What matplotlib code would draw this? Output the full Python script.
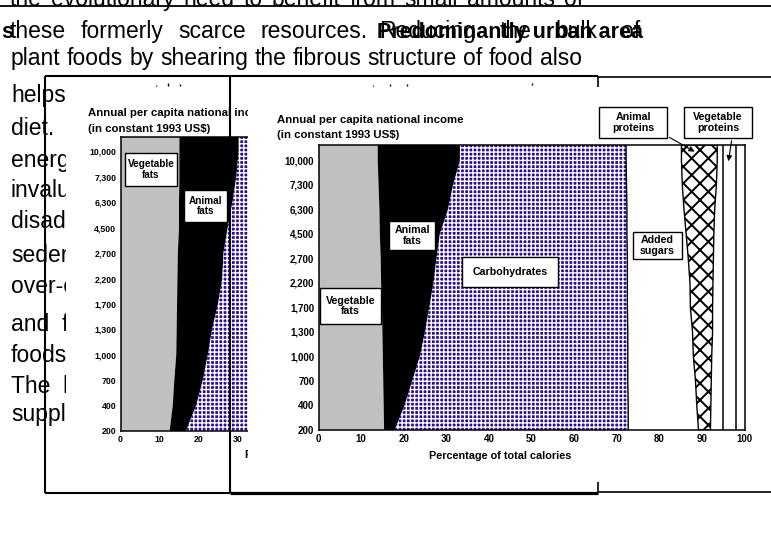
import numpy as np
import matplotlib
matplotlib.use('Agg')
import matplotlib.pyplot as plt
import matplotlib.transforms as mtransforms
from matplotlib.patches import Rectangle

plt.rcParams['font.family'] = ['Liberation Sans', 'DejaVu Sans']

# ---------------- data ----------------
incomes = ['200', '400', '700', '1,000', '1,300', '1,700', '2,200', '2,700',
           '4,500', '6,300', '7,300', '10,000']
pct_ticks = [0, 10, 20, 30, 40, 50, 60, 70, 80, 90, 100]

# right (front) chart: cumulative % of total calories, bottom (200) -> top (10,000)
veg_fats = [15.4, 15.3, 15.2, 15.1, 15.0, 14.9, 14.7, 14.6, 14.4, 14.3, 14.1, 13.9]
animal_fats = [17.9, 20.2, 22.0, 23.8, 25.0, 26.0, 27.0, 27.7, 28.5, 30.4, 31.6, 33.2]
carbohydrates = [72.7, 72.7, 72.6, 72.6, 72.6, 72.5, 72.5, 72.5, 72.4, 72.4, 72.3, 72.2]
added_sugars = [89.2, 88.8, 88.5, 88.0, 87.8, 87.3, 87.2, 86.8, 86.3, 85.8, 85.4, 85.2]
animal_proteins = [92.0, 92.1, 92.2, 92.3, 92.5, 92.5, 92.6, 92.7, 92.8, 93.0, 93.4, 93.6]
other_edge = [94.9, 94.9, 94.9, 94.9, 94.9, 94.9, 94.9, 94.9, 94.9, 94.9, 94.9, 94.9]
vegetable_proteins = [97.9, 97.9, 97.9, 97.9, 97.9, 97.9, 97.9, 97.9, 97.9, 97.9, 97.9, 97.9]

# left (back) chart, partly hidden
left_veg_fats = [12.6, 13.4, 13.8, 14.3, 14.4, 14.5, 14.6, 14.7, 15.0, 15.0, 15.1, 15.1]
left_animal_fats = [16.8, 19.4, 21.1, 22.4, 23.5, 25.0, 26.1, 26.4, 27.5, 28.7, 29.7, 30.3]
left_carbohydrates = [72.7, 72.7, 72.6, 72.6, 72.6, 72.5, 72.5, 72.5, 72.4, 72.4, 72.3, 72.2]

# page text
top_line = "the evolutionary need to benefit from small amounts of"
line_two_a = "these formerly scarce resources."
line_two_b = "Reducing the bulk of"
heading = "Predominantly urban area"
line_three = "plant foods by shearing the fibrous structure of food also"
column_lines = ["helps", "diet.", "energy", "invaluable", "disadvantage", "sedentary",
                "over-consumption", "and  fat", "foods", "The  l", "supply"]
column_baselines = [102, 135, 167, 197, 228, 262, 293, 331, 362, 393, 421]

W, H = 771, 550
fig = plt.figure(figsize=(W / 100, H / 100), dpi=100)
fig.patch.set_facecolor('white')
pix = mtransforms.Affine2D().scale(1 / W, -1 / H).translate(0, 1) + fig.transFigure


def add_ax(x0, y0, x1, y1, z):
    ax = fig.add_axes([x0 / W, 1 - y1 / H, (x1 - x0) / W, (y1 - y0) / H])
    ax.set_zorder(z)
    return ax


def overlay_ax(z):
    ax = fig.add_axes([0, 0, 1, 1])
    ax.set_xlim(0, W)
    ax.set_ylim(H, 0)
    ax.axis('off')
    ax.set_facecolor('none')
    ax.set_zorder(z)
    return ax


renderer = fig.canvas.get_renderer()
BODY = 16.5


def justify(ax, text, x0, x1, y, fs=BODY, **kw):
    words = text.split()
    ts = [ax.text(0, y, w, va='baseline', ha='left', fontsize=fs, **kw) for w in words]
    widths = [t.get_window_extent(renderer).width for t in ts]
    gap = (x1 - x0 - sum(widths)) / (len(words) - 1)
    x = x0
    for t, w in zip(ts, widths):
        t.set_x(x)
        x += w + gap


# ---------- layer 0 : page text ----------
ax_page = overlay_ax(0)
justify(ax_page, top_line, 10, 583, 6)
justify(ax_page, line_two_a, 10, 368, 38)
justify(ax_page, line_two_b, 379, 640, 38)
ax_page.text(377, 38, heading, fontsize=15.5, fontweight='bold', va='baseline')
ax_page.text(1, 38, 's', fontsize=15.5, fontweight='bold', va='baseline')
justify(ax_page, line_three, 11, 582, 65)
for txt, yb in zip(column_lines, column_baselines):
    ax_page.text(11, yb, txt, fontsize=BODY, va='baseline')

# ---------- layer 1 : back picture background ----------
ax_bg1 = overlay_ax(1)
ax_bg1.add_patch(Rectangle((66, 76), 248 - 66, 493 - 76, facecolor='white', edgecolor='none'))

CARB_FC = '#2e0d8f'


def draw_bands(ax, vf, af, carb, ytop):
    y = np.append(np.arange(len(incomes)), ytop)
    ext = lambda v: np.append(v, v[-1])
    ax.fill_betweenx(y, 0, ext(vf), facecolor='#c0c0c0', edgecolor='none', zorder=1)
    ax.fill_betweenx(y, ext(vf), ext(af), facecolor='black', edgecolor='none', zorder=1)
    ax.fill_betweenx(y, ext(af), ext(carb), facecolor=CARB_FC, edgecolor='white',
                     hatch='++++', linewidth=0, zorder=1)
    ax.plot(ext(carb), y, color='black', lw=1, zorder=2)
    return y, ext


def label_box(ax, x0, y0, x1, y1, text, fs):
    ax.add_patch(Rectangle((x0, y0), x1 - x0, y1 - y0, transform=pix, facecolor='white',
                           edgecolor='black', lw=1, clip_on=False, zorder=10))
    ax.text((x0 + x1) / 2, (y0 + y1) / 2, text, transform=pix, ha='center', va='center',
            fontsize=fs, fontweight='bold', zorder=11, clip_on=False, linespacing=1.1)


def style_axes(ax, fs_tick):
    ax.set_xlim(0, 100)
    ax.set_yticks(np.arange(len(incomes)), incomes, fontsize=fs_tick, fontweight='bold')
    ax.set_xticks(pct_ticks, [str(v) for v in pct_ticks], fontsize=fs_tick, fontweight='bold')
    ax.tick_params(length=0, pad=3)
    for s in ax.spines.values():
        s.set_linewidth(1.1)


# ---------- layer 2 : back chart ----------
ax_l = add_ax(120.5, 137, 510.5, 431, 2)
ytop_l = 11.57
ax_l.set_ylim(0, ytop_l)
draw_bands(ax_l, left_veg_fats, left_animal_fats, left_carbohydrates, ytop_l)
style_axes(ax_l, 6.3)
ax_l.text(88, 113, 'Annual per capita national income', transform=pix, fontsize=8.2,
          fontweight='bold', va='center', clip_on=False)
ax_l.text(88, 129, '(in constant 1993 US$)', transform=pix, fontsize=8.2,
          fontweight='bold', va='center', clip_on=False)
ax_l.text(245, 455, 'Percentage of total calories', transform=pix, fontsize=7.8,
          fontweight='bold', va='center', clip_on=False)
label_box(ax_l, 125, 153, 177, 186, 'Vegetable\nfats', 7.2)
label_box(ax_l, 184, 190, 227, 222, 'Animal\nfats', 7.2)

# ---------- layer 3 : front picture background ----------
ax_bg2 = overlay_ax(3)
ax_bg2.add_patch(Rectangle((248, 77), W - 248, 492 - 77, facecolor='white', edgecolor='none'))

# ---------- layer 4 : front chart ----------
ax_r = add_ax(318.5, 145, 744.5, 430, 4)
ytop_r = 11.63
ax_r.set_ylim(0, ytop_r)
y, ext = draw_bands(ax_r, veg_fats, animal_fats, carbohydrates, ytop_r)
with plt.rc_context({'hatch.linewidth': 1.4}):
    ax_r.fill_betweenx(y, ext(added_sugars), ext(animal_proteins), facecolor='white',
                       edgecolor='black', hatch='xx', linewidth=1, zorder=2)
ax_r.plot(ext(other_edge), y, color='black', lw=1.1, zorder=2)
ax_r.plot(ext(vegetable_proteins), y, color='black', lw=1.1, zorder=2)
style_axes(ax_r, 7)
ax_r.text(277, 120, 'Annual per capita national income', transform=pix, fontsize=8.2,
          fontweight='bold', va='center', clip_on=False)
ax_r.text(277, 135, '(in constant 1993 US$)', transform=pix, fontsize=8.2,
          fontweight='bold', va='center', clip_on=False)
ax_r.text(500, 456, 'Percentage of total calories', transform=pix, fontsize=7.8,
          fontweight='bold', va='center', ha='center', clip_on=False)
label_box(ax_r, 320, 288, 381, 324, 'Vegetable\nfats', 7.7)
label_box(ax_r, 389, 221, 435, 250, 'Animal\nfats', 7.7)
label_box(ax_r, 462, 257, 558, 287, 'Carbohydrates', 7.7)
label_box(ax_r, 633, 232, 682, 259, 'Added\nsugars', 7.7)
label_box(ax_r, 599, 107, 667, 138, 'Animal\nproteins', 7.7)
label_box(ax_r, 684, 107, 752, 138, 'Vegetable\nproteins', 7.7)
arrow = dict(arrowstyle='-|>', color='black', lw=0.8, mutation_scale=8)
ax_r.annotate('', xy=(697, 153), xytext=(667, 136), xycoords=pix, textcoords=pix,
              arrowprops=arrow, annotation_clip=False, zorder=12)
ax_r.annotate('', xy=(728, 164), xytext=(732, 138), xycoords=pix, textcoords=pix,
              arrowprops=arrow, annotation_clip=False, zorder=12)

# ---------- layer 5 : frames and rules ----------
ax_o = overlay_ax(5)
k = dict(color='black', solid_capstyle='butt', clip_on=False)
ax_o.plot([0, W], [6, 6], lw=1.3, **k)
ax_o.plot([45, 598], [76, 76], lw=1.5, **k)
ax_o.plot([598, W], [76.5, 76.5], lw=1.2, **k)
ax_o.plot([45, 45], [76, 493], lw=1.5, **k)
ax_o.plot([230, 230], [76, 493], lw=1.5, **k)
ax_o.plot([598, 598], [76, 87], lw=1.2, **k)
ax_o.plot([598, 598], [482, 493], lw=1.2, **k)
ax_o.plot([45, 230], [493, 493], lw=1.5, **k)
ax_o.plot([230, 598], [493, 493], lw=2.3, **k)
ax_o.plot([598, W], [492, 492], lw=1.2, **k)
# small stray marks left from covered text
for (mx, my0, my1) in [(156, 85, 86), (168, 83, 86), (180, 84, 86),
                       (373, 85, 86), (390, 84, 86), (407, 84, 86), (532, 83, 85)]:
    ax_o.plot([mx, mx], [my0, my1], lw=1.0, **k)

fig.savefig('out.png', dpi=100)
